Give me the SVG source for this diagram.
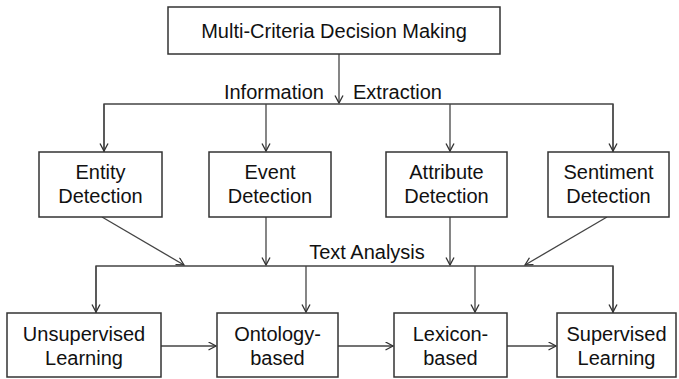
<svg xmlns="http://www.w3.org/2000/svg" width="679" height="379" viewBox="0 0 679 379">
<defs>
<marker id="arr" markerUnits="userSpaceOnUse" markerWidth="12" markerHeight="12" refX="8" refY="4.5" orient="auto">
<path d="M0.5,0.5 L8,4.5 L0.5,8.5" fill="none" stroke="#333" stroke-width="1.3"/>
</marker>
</defs>
<style>
rect.box{fill:#fff;stroke:#333;stroke-width:1.5}
text{font-family:"Liberation Sans",Arial,sans-serif;font-size:20px;fill:#111;text-anchor:middle}
.c{fill:none;stroke:#444;stroke-width:1.3}
</style>
<rect width="679" height="379" fill="#fff"/>
<g id="connectors">
<path class="c" d="M339,54 V103" marker-end="url(#arr)"/>
<path class="c" d="M104,152 V104 H613 V152"/>
<path class="c" d="M104,104 V151" marker-end="url(#arr)"/>
<path class="c" d="M266,104 V151" marker-end="url(#arr)"/>
<path class="c" d="M450,104 V151" marker-end="url(#arr)"/>
<path class="c" d="M613,104 V151" marker-end="url(#arr)"/>
<path class="c" d="M102,217 L184,265" marker-end="url(#arr)"/>
<path class="c" d="M266,217 V265" marker-end="url(#arr)"/>
<path class="c" d="M450,217 V265" marker-end="url(#arr)"/>
<path class="c" d="M607,217 L525,265" marker-end="url(#arr)"/>
<path class="c" d="M96,313 V266 H613 V313"/>
<path class="c" d="M96,266 V312" marker-end="url(#arr)"/>
<path class="c" d="M306,266 V312" marker-end="url(#arr)"/>
<path class="c" d="M475,266 V312" marker-end="url(#arr)"/>
<path class="c" d="M613,266 V312" marker-end="url(#arr)"/>
<path class="c" d="M161,346 H216" marker-end="url(#arr)"/>
<path class="c" d="M338,346 H393" marker-end="url(#arr)"/>
<path class="c" d="M507,346 H556" marker-end="url(#arr)"/>
<text x="324" y="99" style="text-anchor:end">Information</text>
<text x="353" y="99" style="text-anchor:start">Extraction</text>
<text x="367" y="259">Text Analysis</text>
</g>
<g id="mcdm">
<rect class="box" x="168" y="7" width="332" height="47"/>
<text x="334" y="38">Multi-Criteria Decision Making</text>
</g>
<g id="entity">
<rect class="box" x="39" y="152" width="123" height="65"/>
<text x="100.5" y="179">Entity</text>
<text x="100.5" y="203">Detection</text>
</g>
<g id="event">
<rect class="box" x="209" y="152" width="122" height="65"/>
<text x="270" y="179">Event</text>
<text x="270" y="203">Detection</text>
</g>
<g id="attribute">
<rect class="box" x="386" y="152" width="121" height="65"/>
<text x="446.5" y="179">Attribute</text>
<text x="446.5" y="203">Detection</text>
</g>
<g id="sentiment">
<rect class="box" x="548" y="152" width="121" height="65"/>
<text x="608.5" y="179">Sentiment</text>
<text x="608.5" y="203">Detection</text>
</g>
<g id="unsupervised">
<rect class="box" x="7" y="313" width="154" height="64"/>
<text x="84" y="341">Unsupervised</text>
<text x="84" y="365">Learning</text>
</g>
<g id="ontology">
<rect class="box" x="217" y="313" width="121" height="64"/>
<text x="277.5" y="341">Ontology-</text>
<text x="277.5" y="365">based</text>
</g>
<g id="lexicon">
<rect class="box" x="394" y="313" width="113" height="64"/>
<text x="450.5" y="341">Lexicon-</text>
<text x="450.5" y="365">based</text>
</g>
<g id="supervised">
<rect class="box" x="557" y="313" width="119" height="64"/>
<text x="616.5" y="341">Supervised</text>
<text x="616.5" y="365">Learning</text>
</g>
</svg>
